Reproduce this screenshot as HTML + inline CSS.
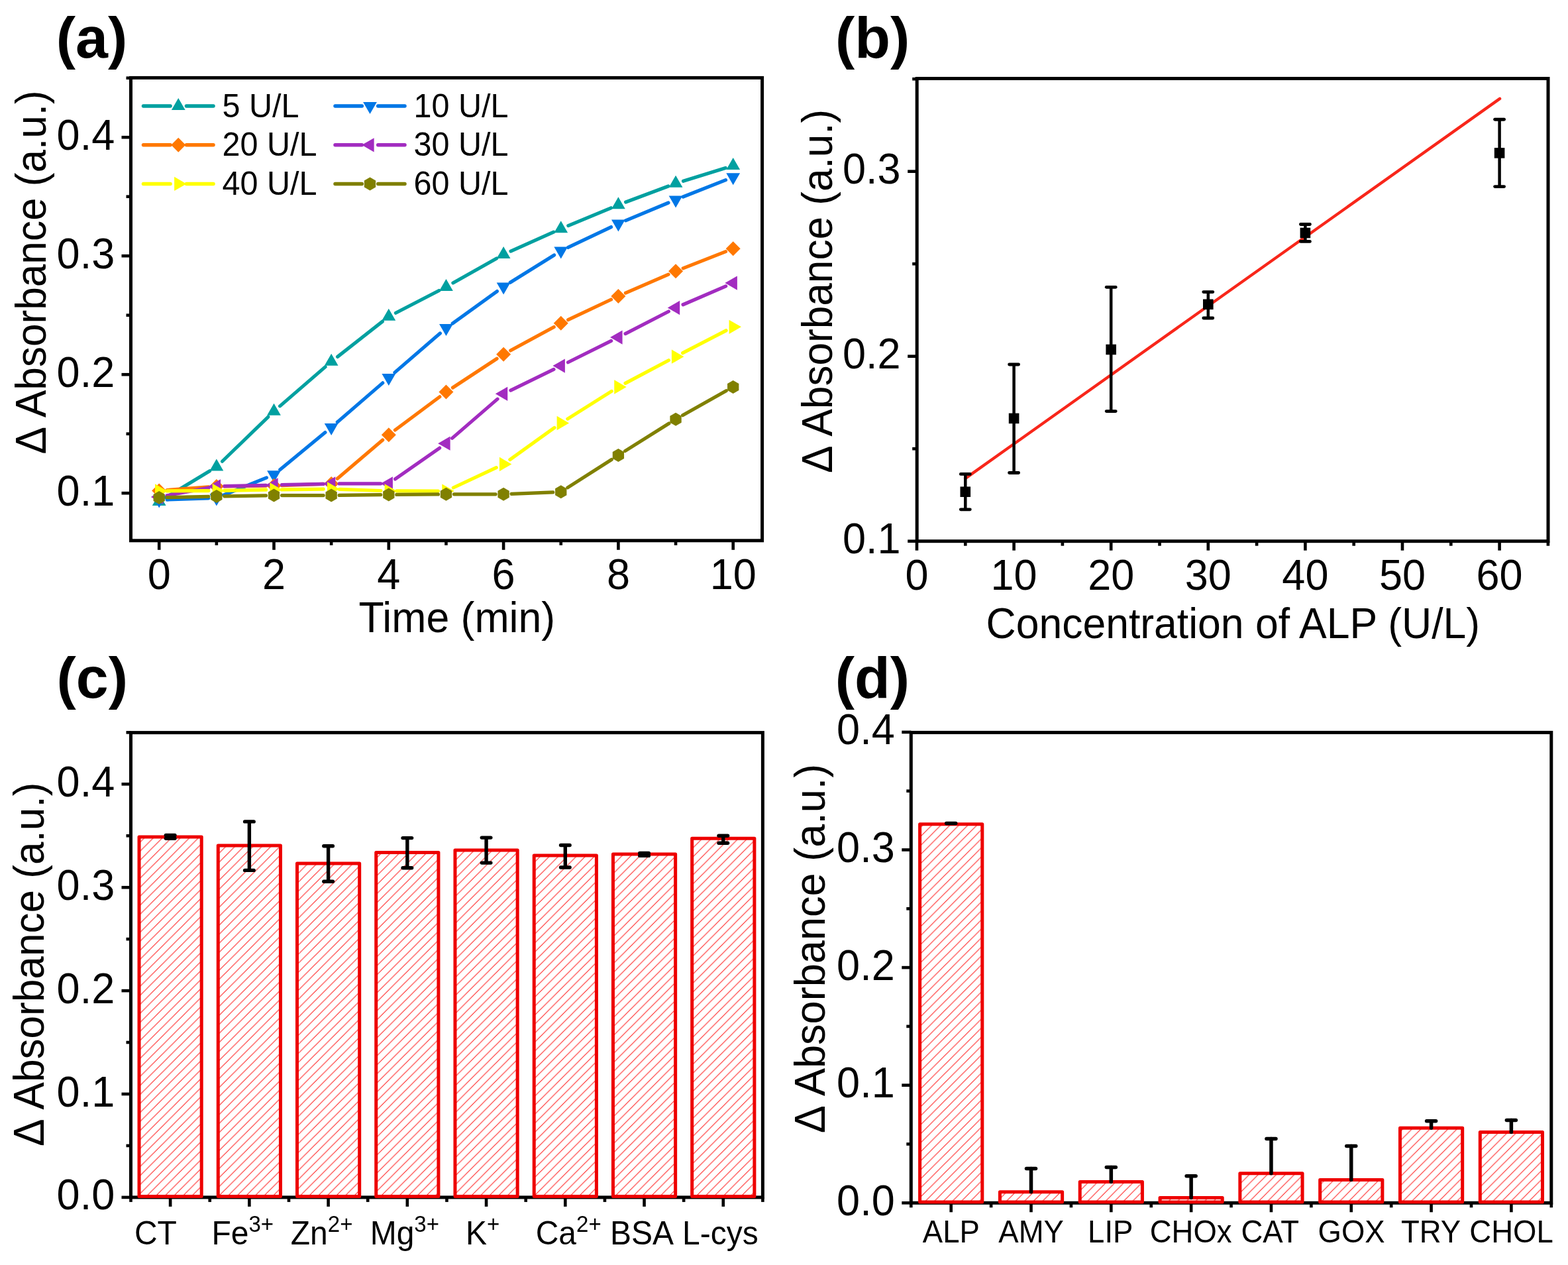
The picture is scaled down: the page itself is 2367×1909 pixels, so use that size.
<!DOCTYPE html>
<html><head><meta charset="utf-8"><title>Figure</title>
<style>html,body{margin:0;padding:0;background:#fff;} svg{display:block;} text{font-family:"Liberation Sans", Arial, sans-serif;fill:#000;}</style>
</head><body>
<svg xmlns="http://www.w3.org/2000/svg" width="2367" height="1909" viewBox="0 0 2367 1909">
<rect width="2367" height="1909" fill="#fff"/>
<defs><pattern id="hatch" patternUnits="userSpaceOnUse" width="13.6" height="13.6">
<path d="M-2,15.6 L15.6,-2 M-2,2 L2,-2 M11.6,15.6 L15.6,11.6" stroke="#FF2A2A" stroke-width="1.15" fill="none"/>
</pattern></defs>
<rect x="197.50" y="117.40" width="953.10" height="698.40" fill="none" stroke="#000" stroke-width="5.0" stroke-linejoin="miter"/>
<line x1="240.20" y1="815.80" x2="240.20" y2="829.80" stroke="#000" stroke-width="4.6" stroke-linecap="butt"/>
<line x1="413.50" y1="815.80" x2="413.50" y2="829.80" stroke="#000" stroke-width="4.6" stroke-linecap="butt"/>
<line x1="586.80" y1="815.80" x2="586.80" y2="829.80" stroke="#000" stroke-width="4.6" stroke-linecap="butt"/>
<line x1="760.10" y1="815.80" x2="760.10" y2="829.80" stroke="#000" stroke-width="4.6" stroke-linecap="butt"/>
<line x1="933.40" y1="815.80" x2="933.40" y2="829.80" stroke="#000" stroke-width="4.6" stroke-linecap="butt"/>
<line x1="1106.70" y1="815.80" x2="1106.70" y2="829.80" stroke="#000" stroke-width="4.6" stroke-linecap="butt"/>
<line x1="326.85" y1="815.80" x2="326.85" y2="822.80" stroke="#000" stroke-width="4.6" stroke-linecap="butt"/>
<line x1="500.15" y1="815.80" x2="500.15" y2="822.80" stroke="#000" stroke-width="4.6" stroke-linecap="butt"/>
<line x1="673.45" y1="815.80" x2="673.45" y2="822.80" stroke="#000" stroke-width="4.6" stroke-linecap="butt"/>
<line x1="846.75" y1="815.80" x2="846.75" y2="822.80" stroke="#000" stroke-width="4.6" stroke-linecap="butt"/>
<line x1="1020.05" y1="815.80" x2="1020.05" y2="822.80" stroke="#000" stroke-width="4.6" stroke-linecap="butt"/>
<line x1="197.50" y1="744.20" x2="183.50" y2="744.20" stroke="#000" stroke-width="4.6" stroke-linecap="butt"/>
<line x1="197.50" y1="565.20" x2="183.50" y2="565.20" stroke="#000" stroke-width="4.6" stroke-linecap="butt"/>
<line x1="197.50" y1="386.20" x2="183.50" y2="386.20" stroke="#000" stroke-width="4.6" stroke-linecap="butt"/>
<line x1="197.50" y1="207.20" x2="183.50" y2="207.20" stroke="#000" stroke-width="4.6" stroke-linecap="butt"/>
<line x1="197.50" y1="654.70" x2="190.50" y2="654.70" stroke="#000" stroke-width="4.6" stroke-linecap="butt"/>
<line x1="197.50" y1="475.70" x2="190.50" y2="475.70" stroke="#000" stroke-width="4.6" stroke-linecap="butt"/>
<line x1="197.50" y1="296.70" x2="190.50" y2="296.70" stroke="#000" stroke-width="4.6" stroke-linecap="butt"/>
<line x1="197.50" y1="117.70" x2="190.50" y2="117.70" stroke="#000" stroke-width="4.6" stroke-linecap="butt"/>
<text transform="translate(240.20 889.00) scale(1 1.04)" font-size="63" text-anchor="middle" font-weight="normal" >0</text>
<text transform="translate(413.50 889.00) scale(1 1.04)" font-size="63" text-anchor="middle" font-weight="normal" >2</text>
<text transform="translate(586.80 889.00) scale(1 1.04)" font-size="63" text-anchor="middle" font-weight="normal" >4</text>
<text transform="translate(760.10 889.00) scale(1 1.04)" font-size="63" text-anchor="middle" font-weight="normal" >6</text>
<text transform="translate(933.40 889.00) scale(1 1.04)" font-size="63" text-anchor="middle" font-weight="normal" >8</text>
<text transform="translate(1106.70 889.00) scale(1 1.04)" font-size="63" text-anchor="middle" font-weight="normal" >10</text>
<text transform="translate(173.20 762.70) scale(1 1.04)" font-size="63" text-anchor="end" font-weight="normal" >0.1</text>
<text transform="translate(173.20 583.70) scale(1 1.04)" font-size="63" text-anchor="end" font-weight="normal" >0.2</text>
<text transform="translate(173.20 404.70) scale(1 1.04)" font-size="63" text-anchor="end" font-weight="normal" >0.3</text>
<text transform="translate(173.20 225.70) scale(1 1.04)" font-size="63" text-anchor="end" font-weight="normal" >0.4</text>
<text transform="translate(689.80 954.40) scale(1 1.04)" font-size="62.6" text-anchor="middle" font-weight="normal" >Time (min)</text>
<text transform="translate(69.00 410.80) rotate(-90) scale(1 1.04)" font-size="62.15" text-anchor="middle">Δ Absorbance (a.u.)</text>
<line x1="250.47" y1="750.79" x2="316.58" y2="710.81" stroke="#00A0A0" stroke-width="5.2" stroke-linecap="round"/>
<line x1="335.47" y1="696.25" x2="404.88" y2="629.05" stroke="#00A0A0" stroke-width="5.2" stroke-linecap="round"/>
<line x1="422.58" y1="612.85" x2="491.07" y2="553.65" stroke="#00A0A0" stroke-width="5.2" stroke-linecap="round"/>
<line x1="509.58" y1="538.38" x2="577.37" y2="485.12" stroke="#00A0A0" stroke-width="5.2" stroke-linecap="round"/>
<line x1="597.46" y1="472.20" x2="662.79" y2="438.50" stroke="#00A0A0" stroke-width="5.2" stroke-linecap="round"/>
<line x1="683.90" y1="427.09" x2="749.65" y2="389.91" stroke="#00A0A0" stroke-width="5.2" stroke-linecap="round"/>
<line x1="771.05" y1="379.10" x2="835.80" y2="350.10" stroke="#00A0A0" stroke-width="5.2" stroke-linecap="round"/>
<line x1="857.83" y1="340.60" x2="922.32" y2="313.80" stroke="#00A0A0" stroke-width="5.2" stroke-linecap="round"/>
<line x1="944.64" y1="305.00" x2="1008.81" y2="281.00" stroke="#00A0A0" stroke-width="5.2" stroke-linecap="round"/>
<line x1="1031.51" y1="273.24" x2="1095.24" y2="253.46" stroke="#00A0A0" stroke-width="5.2" stroke-linecap="round"/>
<polygon points="240.20,745.00 250.59,763.00 229.81,763.00" fill="#00A0A0"/>
<polygon points="326.85,692.60 337.24,710.60 316.46,710.60" fill="#00A0A0"/>
<polygon points="413.50,608.70 423.89,626.70 403.11,626.70" fill="#00A0A0"/>
<polygon points="500.15,533.80 510.54,551.80 489.76,551.80" fill="#00A0A0"/>
<polygon points="586.80,465.70 597.19,483.70 576.41,483.70" fill="#00A0A0"/>
<polygon points="673.45,421.00 683.84,439.00 663.06,439.00" fill="#00A0A0"/>
<polygon points="760.10,372.00 770.49,390.00 749.71,390.00" fill="#00A0A0"/>
<polygon points="846.75,333.20 857.14,351.20 836.36,351.20" fill="#00A0A0"/>
<polygon points="933.40,297.20 943.79,315.20 923.01,315.20" fill="#00A0A0"/>
<polygon points="1020.05,264.80 1030.44,282.80 1009.66,282.80" fill="#00A0A0"/>
<polygon points="1106.70,237.90 1117.09,255.90 1096.31,255.90" fill="#00A0A0"/>
<line x1="252.19" y1="754.08" x2="314.86" y2="751.92" stroke="#0077E6" stroke-width="5.2" stroke-linecap="round"/>
<line x1="337.97" y1="746.98" x2="402.38" y2="720.82" stroke="#0077E6" stroke-width="5.2" stroke-linecap="round"/>
<line x1="422.76" y1="708.67" x2="490.89" y2="652.53" stroke="#0077E6" stroke-width="5.2" stroke-linecap="round"/>
<line x1="509.23" y1="637.05" x2="577.72" y2="577.85" stroke="#0077E6" stroke-width="5.2" stroke-linecap="round"/>
<line x1="595.88" y1="562.15" x2="664.37" y2="502.95" stroke="#0077E6" stroke-width="5.2" stroke-linecap="round"/>
<line x1="683.18" y1="488.08" x2="750.37" y2="439.62" stroke="#0077E6" stroke-width="5.2" stroke-linecap="round"/>
<line x1="770.28" y1="426.25" x2="836.57" y2="384.95" stroke="#0077E6" stroke-width="5.2" stroke-linecap="round"/>
<line x1="857.59" y1="373.45" x2="922.56" y2="342.55" stroke="#0077E6" stroke-width="5.2" stroke-linecap="round"/>
<line x1="944.48" y1="332.80" x2="1008.97" y2="306.00" stroke="#0077E6" stroke-width="5.2" stroke-linecap="round"/>
<line x1="1031.22" y1="297.01" x2="1095.53" y2="271.69" stroke="#0077E6" stroke-width="5.2" stroke-linecap="round"/>
<polygon points="240.20,766.50 250.59,748.50 229.81,748.50" fill="#0077E6"/>
<polygon points="326.85,763.50 337.24,745.50 316.46,745.50" fill="#0077E6"/>
<polygon points="413.50,728.30 423.89,710.30 403.11,710.30" fill="#0077E6"/>
<polygon points="500.15,656.90 510.54,638.90 489.76,638.90" fill="#0077E6"/>
<polygon points="586.80,582.00 597.19,564.00 576.41,564.00" fill="#0077E6"/>
<polygon points="673.45,507.10 683.84,489.10 663.06,489.10" fill="#0077E6"/>
<polygon points="760.10,444.60 770.49,426.60 749.71,426.60" fill="#0077E6"/>
<polygon points="846.75,390.60 857.14,372.60 836.36,372.60" fill="#0077E6"/>
<polygon points="933.40,349.40 943.79,331.40 923.01,331.40" fill="#0077E6"/>
<polygon points="1020.05,313.40 1030.44,295.40 1009.66,295.40" fill="#0077E6"/>
<polygon points="1106.70,279.30 1117.09,261.30 1096.31,261.30" fill="#0077E6"/>
<line x1="252.17" y1="739.52" x2="314.88" y2="734.88" stroke="#FF7800" stroke-width="5.2" stroke-linecap="round"/>
<line x1="338.85" y1="733.86" x2="401.50" y2="733.14" stroke="#FF7800" stroke-width="5.2" stroke-linecap="round"/>
<line x1="425.49" y1="732.58" x2="488.16" y2="730.42" stroke="#FF7800" stroke-width="5.2" stroke-linecap="round"/>
<line x1="509.29" y1="722.22" x2="577.66" y2="663.98" stroke="#FF7800" stroke-width="5.2" stroke-linecap="round"/>
<line x1="596.42" y1="649.03" x2="663.83" y2="598.77" stroke="#FF7800" stroke-width="5.2" stroke-linecap="round"/>
<line x1="683.48" y1="585.01" x2="750.07" y2="541.29" stroke="#FF7800" stroke-width="5.2" stroke-linecap="round"/>
<line x1="770.65" y1="528.99" x2="836.20" y2="493.51" stroke="#FF7800" stroke-width="5.2" stroke-linecap="round"/>
<line x1="857.60" y1="482.68" x2="922.55" y2="452.02" stroke="#FF7800" stroke-width="5.2" stroke-linecap="round"/>
<line x1="944.41" y1="442.12" x2="1009.04" y2="414.08" stroke="#FF7800" stroke-width="5.2" stroke-linecap="round"/>
<line x1="1031.22" y1="404.91" x2="1095.53" y2="379.59" stroke="#FF7800" stroke-width="5.2" stroke-linecap="round"/>
<polygon points="240.20,729.40 251.20,740.40 240.20,751.40 229.20,740.40" fill="#FF7800"/>
<polygon points="326.85,723.00 337.85,734.00 326.85,745.00 315.85,734.00" fill="#FF7800"/>
<polygon points="413.50,722.00 424.50,733.00 413.50,744.00 402.50,733.00" fill="#FF7800"/>
<polygon points="500.15,719.00 511.15,730.00 500.15,741.00 489.15,730.00" fill="#FF7800"/>
<polygon points="586.80,645.20 597.80,656.20 586.80,667.20 575.80,656.20" fill="#FF7800"/>
<polygon points="673.45,580.60 684.45,591.60 673.45,602.60 662.45,591.60" fill="#FF7800"/>
<polygon points="760.10,523.70 771.10,534.70 760.10,545.70 749.10,534.70" fill="#FF7800"/>
<polygon points="846.75,476.80 857.75,487.80 846.75,498.80 835.75,487.80" fill="#FF7800"/>
<polygon points="933.40,435.90 944.40,446.90 933.40,457.90 922.40,446.90" fill="#FF7800"/>
<polygon points="1020.05,398.30 1031.05,409.30 1020.05,420.30 1009.05,409.30" fill="#FF7800"/>
<polygon points="1106.70,364.20 1117.70,375.20 1106.70,386.20 1095.70,375.20" fill="#FF7800"/>
<line x1="252.00" y1="747.82" x2="315.05" y2="736.18" stroke="#A22CC0" stroke-width="5.2" stroke-linecap="round"/>
<line x1="338.85" y1="733.72" x2="401.50" y2="732.28" stroke="#A22CC0" stroke-width="5.2" stroke-linecap="round"/>
<line x1="425.50" y1="731.72" x2="488.15" y2="730.28" stroke="#A22CC0" stroke-width="5.2" stroke-linecap="round"/>
<line x1="512.15" y1="729.97" x2="574.80" y2="729.83" stroke="#A22CC0" stroke-width="5.2" stroke-linecap="round"/>
<line x1="596.63" y1="722.92" x2="663.62" y2="676.08" stroke="#A22CC0" stroke-width="5.2" stroke-linecap="round"/>
<line x1="682.53" y1="661.35" x2="751.02" y2="602.15" stroke="#A22CC0" stroke-width="5.2" stroke-linecap="round"/>
<line x1="770.89" y1="589.05" x2="835.96" y2="557.35" stroke="#A22CC0" stroke-width="5.2" stroke-linecap="round"/>
<line x1="857.50" y1="546.77" x2="922.65" y2="514.43" stroke="#A22CC0" stroke-width="5.2" stroke-linecap="round"/>
<line x1="944.07" y1="503.61" x2="1009.38" y2="469.99" stroke="#A22CC0" stroke-width="5.2" stroke-linecap="round"/>
<line x1="1031.07" y1="459.74" x2="1095.68" y2="431.86" stroke="#A22CC0" stroke-width="5.2" stroke-linecap="round"/>
<polygon points="227.90,750.00 246.35,760.65 246.35,739.35" fill="#A22CC0"/>
<polygon points="314.55,734.00 333.00,744.65 333.00,723.35" fill="#A22CC0"/>
<polygon points="401.20,732.00 419.65,742.65 419.65,721.35" fill="#A22CC0"/>
<polygon points="487.85,730.00 506.30,740.65 506.30,719.35" fill="#A22CC0"/>
<polygon points="574.50,729.80 592.95,740.45 592.95,719.15" fill="#A22CC0"/>
<polygon points="661.15,669.20 679.60,679.85 679.60,658.55" fill="#A22CC0"/>
<polygon points="747.80,594.30 766.25,604.95 766.25,583.65" fill="#A22CC0"/>
<polygon points="834.45,552.10 852.90,562.75 852.90,541.45" fill="#A22CC0"/>
<polygon points="921.10,509.10 939.55,519.75 939.55,498.45" fill="#A22CC0"/>
<polygon points="1007.75,464.50 1026.20,475.15 1026.20,453.85" fill="#A22CC0"/>
<polygon points="1094.40,427.10 1112.85,437.75 1112.85,416.45" fill="#A22CC0"/>
<line x1="252.20" y1="740.93" x2="314.85" y2="740.57" stroke="#FFFF00" stroke-width="5.2" stroke-linecap="round"/>
<line x1="338.85" y1="740.29" x2="401.50" y2="739.21" stroke="#FFFF00" stroke-width="5.2" stroke-linecap="round"/>
<line x1="425.50" y1="738.86" x2="488.15" y2="738.14" stroke="#FFFF00" stroke-width="5.2" stroke-linecap="round"/>
<line x1="512.14" y1="738.40" x2="574.81" y2="740.50" stroke="#FFFF00" stroke-width="5.2" stroke-linecap="round"/>
<line x1="598.80" y1="740.93" x2="661.45" y2="741.07" stroke="#FFFF00" stroke-width="5.2" stroke-linecap="round"/>
<line x1="684.32" y1="736.01" x2="749.23" y2="705.59" stroke="#FFFF00" stroke-width="5.2" stroke-linecap="round"/>
<line x1="769.86" y1="693.52" x2="836.99" y2="645.48" stroke="#FFFF00" stroke-width="5.2" stroke-linecap="round"/>
<line x1="856.91" y1="632.11" x2="923.24" y2="590.39" stroke="#FFFF00" stroke-width="5.2" stroke-linecap="round"/>
<line x1="944.01" y1="578.39" x2="1009.44" y2="543.81" stroke="#FFFF00" stroke-width="5.2" stroke-linecap="round"/>
<line x1="1030.70" y1="532.68" x2="1096.05" y2="498.82" stroke="#FFFF00" stroke-width="5.2" stroke-linecap="round"/>
<polygon points="252.50,741.00 234.05,751.65 234.05,730.35" fill="#FFFF00"/>
<polygon points="339.15,740.50 320.70,751.15 320.70,729.85" fill="#FFFF00"/>
<polygon points="425.80,739.00 407.35,749.65 407.35,728.35" fill="#FFFF00"/>
<polygon points="512.45,738.00 494.00,748.65 494.00,727.35" fill="#FFFF00"/>
<polygon points="599.10,740.90 580.65,751.55 580.65,730.25" fill="#FFFF00"/>
<polygon points="685.75,741.10 667.30,751.75 667.30,730.45" fill="#FFFF00"/>
<polygon points="772.40,700.50 753.95,711.15 753.95,689.85" fill="#FFFF00"/>
<polygon points="859.05,638.50 840.60,649.15 840.60,627.85" fill="#FFFF00"/>
<polygon points="945.70,584.00 927.25,594.65 927.25,573.35" fill="#FFFF00"/>
<polygon points="1032.35,538.20 1013.90,548.85 1013.90,527.55" fill="#FFFF00"/>
<polygon points="1119.00,493.30 1100.55,503.95 1100.55,482.65" fill="#FFFF00"/>
<line x1="252.20" y1="750.72" x2="314.85" y2="749.28" stroke="#808000" stroke-width="5.2" stroke-linecap="round"/>
<line x1="338.85" y1="748.81" x2="401.50" y2="747.79" stroke="#808000" stroke-width="5.2" stroke-linecap="round"/>
<line x1="425.50" y1="747.60" x2="488.15" y2="747.60" stroke="#808000" stroke-width="5.2" stroke-linecap="round"/>
<line x1="512.15" y1="747.45" x2="574.80" y2="746.65" stroke="#808000" stroke-width="5.2" stroke-linecap="round"/>
<line x1="598.80" y1="746.40" x2="661.45" y2="745.90" stroke="#808000" stroke-width="5.2" stroke-linecap="round"/>
<line x1="685.45" y1="745.80" x2="748.10" y2="745.80" stroke="#808000" stroke-width="5.2" stroke-linecap="round"/>
<line x1="772.09" y1="745.32" x2="834.76" y2="742.78" stroke="#808000" stroke-width="5.2" stroke-linecap="round"/>
<line x1="856.87" y1="735.84" x2="923.28" y2="693.46" stroke="#808000" stroke-width="5.2" stroke-linecap="round"/>
<line x1="943.57" y1="680.63" x2="1009.88" y2="639.07" stroke="#808000" stroke-width="5.2" stroke-linecap="round"/>
<line x1="1030.51" y1="626.81" x2="1096.24" y2="589.79" stroke="#808000" stroke-width="5.2" stroke-linecap="round"/>
<polygon points="240.20,741.00 248.86,746.00 248.86,756.00 240.20,761.00 231.54,756.00 231.54,746.00" fill="#808000"/>
<polygon points="326.85,739.00 335.51,744.00 335.51,754.00 326.85,759.00 318.19,754.00 318.19,744.00" fill="#808000"/>
<polygon points="413.50,737.60 422.16,742.60 422.16,752.60 413.50,757.60 404.84,752.60 404.84,742.60" fill="#808000"/>
<polygon points="500.15,737.60 508.81,742.60 508.81,752.60 500.15,757.60 491.49,752.60 491.49,742.60" fill="#808000"/>
<polygon points="586.80,736.50 595.46,741.50 595.46,751.50 586.80,756.50 578.14,751.50 578.14,741.50" fill="#808000"/>
<polygon points="673.45,735.80 682.11,740.80 682.11,750.80 673.45,755.80 664.79,750.80 664.79,740.80" fill="#808000"/>
<polygon points="760.10,735.80 768.76,740.80 768.76,750.80 760.10,755.80 751.44,750.80 751.44,740.80" fill="#808000"/>
<polygon points="846.75,732.30 855.41,737.30 855.41,747.30 846.75,752.30 838.09,747.30 838.09,737.30" fill="#808000"/>
<polygon points="933.40,677.00 942.06,682.00 942.06,692.00 933.40,697.00 924.74,692.00 924.74,682.00" fill="#808000"/>
<polygon points="1020.05,622.70 1028.71,627.70 1028.71,637.70 1020.05,642.70 1011.39,637.70 1011.39,627.70" fill="#808000"/>
<polygon points="1106.70,573.90 1115.36,578.90 1115.36,588.90 1106.70,593.90 1098.04,588.90 1098.04,578.90" fill="#808000"/>
<line x1="216.50" y1="160.00" x2="257.05" y2="160.00" stroke="#00A0A0" stroke-width="5.5" stroke-linecap="round"/>
<line x1="281.45" y1="160.00" x2="322.00" y2="160.00" stroke="#00A0A0" stroke-width="5.5" stroke-linecap="round"/>
<polygon points="269.25,148.00 279.64,166.00 258.86,166.00" fill="#00A0A0"/>
<text transform="translate(335.50 176.50) scale(1 1.04)" font-size="48.5" text-anchor="start" font-weight="normal" >5 U/L</text>
<line x1="506.00" y1="160.00" x2="546.30" y2="160.00" stroke="#0077E6" stroke-width="5.5" stroke-linecap="round"/>
<line x1="570.70" y1="160.00" x2="611.00" y2="160.00" stroke="#0077E6" stroke-width="5.5" stroke-linecap="round"/>
<polygon points="558.50,172.00 568.89,154.00 548.11,154.00" fill="#0077E6"/>
<text transform="translate(624.50 176.50) scale(1 1.04)" font-size="48.5" text-anchor="start" font-weight="normal" >10 U/L</text>
<line x1="216.50" y1="218.80" x2="257.05" y2="218.80" stroke="#FF7800" stroke-width="5.5" stroke-linecap="round"/>
<line x1="281.45" y1="218.80" x2="322.00" y2="218.80" stroke="#FF7800" stroke-width="5.5" stroke-linecap="round"/>
<polygon points="269.25,207.80 280.25,218.80 269.25,229.80 258.25,218.80" fill="#FF7800"/>
<text transform="translate(335.50 235.30) scale(1 1.04)" font-size="48.5" text-anchor="start" font-weight="normal" >20 U/L</text>
<line x1="506.00" y1="218.80" x2="546.30" y2="218.80" stroke="#A22CC0" stroke-width="5.5" stroke-linecap="round"/>
<line x1="570.70" y1="218.80" x2="611.00" y2="218.80" stroke="#A22CC0" stroke-width="5.5" stroke-linecap="round"/>
<polygon points="546.20,218.80 564.65,229.45 564.65,208.15" fill="#A22CC0"/>
<text transform="translate(624.50 235.30) scale(1 1.04)" font-size="48.5" text-anchor="start" font-weight="normal" >30 U/L</text>
<line x1="216.50" y1="277.40" x2="257.05" y2="277.40" stroke="#FFFF00" stroke-width="5.5" stroke-linecap="round"/>
<line x1="281.45" y1="277.40" x2="322.00" y2="277.40" stroke="#FFFF00" stroke-width="5.5" stroke-linecap="round"/>
<polygon points="281.55,277.40 263.10,288.05 263.10,266.75" fill="#FFFF00"/>
<text transform="translate(335.50 293.90) scale(1 1.04)" font-size="48.5" text-anchor="start" font-weight="normal" >40 U/L</text>
<line x1="506.00" y1="277.40" x2="546.30" y2="277.40" stroke="#808000" stroke-width="5.5" stroke-linecap="round"/>
<line x1="570.70" y1="277.40" x2="611.00" y2="277.40" stroke="#808000" stroke-width="5.5" stroke-linecap="round"/>
<polygon points="558.50,267.40 567.16,272.40 567.16,282.40 558.50,287.40 549.84,282.40 549.84,272.40" fill="#808000"/>
<text transform="translate(624.50 293.90) scale(1 1.04)" font-size="48.5" text-anchor="start" font-weight="normal" >60 U/L</text>
<rect x="1384.20" y="118.50" width="952.80" height="698.20" fill="none" stroke="#000" stroke-width="5.0" stroke-linejoin="miter"/>
<line x1="1384.00" y1="816.70" x2="1384.00" y2="830.70" stroke="#000" stroke-width="4.6" stroke-linecap="butt"/>
<line x1="1530.60" y1="816.70" x2="1530.60" y2="830.70" stroke="#000" stroke-width="4.6" stroke-linecap="butt"/>
<line x1="1677.20" y1="816.70" x2="1677.20" y2="830.70" stroke="#000" stroke-width="4.6" stroke-linecap="butt"/>
<line x1="1823.80" y1="816.70" x2="1823.80" y2="830.70" stroke="#000" stroke-width="4.6" stroke-linecap="butt"/>
<line x1="1970.40" y1="816.70" x2="1970.40" y2="830.70" stroke="#000" stroke-width="4.6" stroke-linecap="butt"/>
<line x1="2117.00" y1="816.70" x2="2117.00" y2="830.70" stroke="#000" stroke-width="4.6" stroke-linecap="butt"/>
<line x1="2263.60" y1="816.70" x2="2263.60" y2="830.70" stroke="#000" stroke-width="4.6" stroke-linecap="butt"/>
<line x1="1457.30" y1="816.70" x2="1457.30" y2="823.70" stroke="#000" stroke-width="4.6" stroke-linecap="butt"/>
<line x1="1603.90" y1="816.70" x2="1603.90" y2="823.70" stroke="#000" stroke-width="4.6" stroke-linecap="butt"/>
<line x1="1750.50" y1="816.70" x2="1750.50" y2="823.70" stroke="#000" stroke-width="4.6" stroke-linecap="butt"/>
<line x1="1897.10" y1="816.70" x2="1897.10" y2="823.70" stroke="#000" stroke-width="4.6" stroke-linecap="butt"/>
<line x1="2043.70" y1="816.70" x2="2043.70" y2="823.70" stroke="#000" stroke-width="4.6" stroke-linecap="butt"/>
<line x1="2190.30" y1="816.70" x2="2190.30" y2="823.70" stroke="#000" stroke-width="4.6" stroke-linecap="butt"/>
<line x1="2336.90" y1="816.70" x2="2336.90" y2="823.70" stroke="#000" stroke-width="4.6" stroke-linecap="butt"/>
<line x1="1384.20" y1="816.70" x2="1370.20" y2="816.70" stroke="#000" stroke-width="4.6" stroke-linecap="butt"/>
<line x1="1384.20" y1="537.70" x2="1370.20" y2="537.70" stroke="#000" stroke-width="4.6" stroke-linecap="butt"/>
<line x1="1384.20" y1="258.70" x2="1370.20" y2="258.70" stroke="#000" stroke-width="4.6" stroke-linecap="butt"/>
<line x1="1384.20" y1="677.20" x2="1377.20" y2="677.20" stroke="#000" stroke-width="4.6" stroke-linecap="butt"/>
<line x1="1384.20" y1="398.20" x2="1377.20" y2="398.20" stroke="#000" stroke-width="4.6" stroke-linecap="butt"/>
<line x1="1384.20" y1="119.20" x2="1377.20" y2="119.20" stroke="#000" stroke-width="4.6" stroke-linecap="butt"/>
<text transform="translate(1384.00 889.50) scale(1 1.04)" font-size="63" text-anchor="middle" font-weight="normal" >0</text>
<text transform="translate(1530.60 889.50) scale(1 1.04)" font-size="63" text-anchor="middle" font-weight="normal" >10</text>
<text transform="translate(1677.20 889.50) scale(1 1.04)" font-size="63" text-anchor="middle" font-weight="normal" >20</text>
<text transform="translate(1823.80 889.50) scale(1 1.04)" font-size="63" text-anchor="middle" font-weight="normal" >30</text>
<text transform="translate(1970.40 889.50) scale(1 1.04)" font-size="63" text-anchor="middle" font-weight="normal" >40</text>
<text transform="translate(2117.00 889.50) scale(1 1.04)" font-size="63" text-anchor="middle" font-weight="normal" >50</text>
<text transform="translate(2263.60 889.50) scale(1 1.04)" font-size="63" text-anchor="middle" font-weight="normal" >60</text>
<text transform="translate(1359.60 835.20) scale(1 1.04)" font-size="63" text-anchor="end" font-weight="normal" >0.1</text>
<text transform="translate(1359.60 556.20) scale(1 1.04)" font-size="63" text-anchor="end" font-weight="normal" >0.2</text>
<text transform="translate(1359.60 277.20) scale(1 1.04)" font-size="63" text-anchor="end" font-weight="normal" >0.3</text>
<text transform="translate(1861.35 962.60) scale(1 1.04)" font-size="62.5" text-anchor="middle" font-weight="normal" >Concentration of ALP (U/L)</text>
<text transform="translate(1255.90 439.30) rotate(-90) scale(1 1.04)" font-size="62.15" text-anchor="middle">Δ Absorbance (a.u.)</text>
<line x1="1457.10" y1="722.10" x2="2264.10" y2="148.90" stroke="#F8261A" stroke-width="4.4" stroke-linecap="round"/>
<line x1="1457.30" y1="715.40" x2="1457.30" y2="768.80" stroke="#000" stroke-width="4.5" stroke-linecap="butt"/>
<line x1="1450.30" y1="715.40" x2="1464.30" y2="715.40" stroke="#000" stroke-width="4.8" stroke-linecap="round"/>
<line x1="1450.30" y1="768.80" x2="1464.30" y2="768.80" stroke="#000" stroke-width="4.8" stroke-linecap="round"/>
<polygon points="1449.50,734.40 1465.10,734.40 1465.10,750.00 1449.50,750.00" fill="#000"/>
<line x1="1530.60" y1="550.00" x2="1530.60" y2="713.50" stroke="#000" stroke-width="4.5" stroke-linecap="butt"/>
<line x1="1523.60" y1="550.00" x2="1537.60" y2="550.00" stroke="#000" stroke-width="4.8" stroke-linecap="round"/>
<line x1="1523.60" y1="713.50" x2="1537.60" y2="713.50" stroke="#000" stroke-width="4.8" stroke-linecap="round"/>
<polygon points="1522.80,623.60 1538.40,623.60 1538.40,639.20 1522.80,639.20" fill="#000"/>
<line x1="1677.20" y1="433.30" x2="1677.20" y2="620.60" stroke="#000" stroke-width="4.5" stroke-linecap="butt"/>
<line x1="1670.20" y1="433.30" x2="1684.20" y2="433.30" stroke="#000" stroke-width="4.8" stroke-linecap="round"/>
<line x1="1670.20" y1="620.60" x2="1684.20" y2="620.60" stroke="#000" stroke-width="4.8" stroke-linecap="round"/>
<polygon points="1669.40,519.70 1685.00,519.70 1685.00,535.30 1669.40,535.30" fill="#000"/>
<line x1="1823.80" y1="440.60" x2="1823.80" y2="480.00" stroke="#000" stroke-width="4.5" stroke-linecap="butt"/>
<line x1="1816.80" y1="440.60" x2="1830.80" y2="440.60" stroke="#000" stroke-width="4.8" stroke-linecap="round"/>
<line x1="1816.80" y1="480.00" x2="1830.80" y2="480.00" stroke="#000" stroke-width="4.8" stroke-linecap="round"/>
<polygon points="1816.00,451.50 1831.60,451.50 1831.60,467.10 1816.00,467.10" fill="#000"/>
<line x1="1970.40" y1="338.50" x2="1970.40" y2="364.40" stroke="#000" stroke-width="4.5" stroke-linecap="butt"/>
<line x1="1963.40" y1="338.50" x2="1977.40" y2="338.50" stroke="#000" stroke-width="4.8" stroke-linecap="round"/>
<line x1="1963.40" y1="364.40" x2="1977.40" y2="364.40" stroke="#000" stroke-width="4.8" stroke-linecap="round"/>
<polygon points="1962.60,343.70 1978.20,343.70 1978.20,359.30 1962.60,359.30" fill="#000"/>
<line x1="2263.60" y1="180.25" x2="2263.60" y2="281.60" stroke="#000" stroke-width="4.5" stroke-linecap="butt"/>
<line x1="2256.60" y1="180.25" x2="2270.60" y2="180.25" stroke="#000" stroke-width="4.8" stroke-linecap="round"/>
<line x1="2256.60" y1="281.60" x2="2270.60" y2="281.60" stroke="#000" stroke-width="4.8" stroke-linecap="round"/>
<polygon points="2255.80,223.10 2271.40,223.10 2271.40,238.70 2255.80,238.70" fill="#000"/>
<rect x="197.50" y="1105.60" width="953.90" height="701.30" fill="none" stroke="#000" stroke-width="5.0" stroke-linejoin="miter"/>
<line x1="257.12" y1="1806.90" x2="257.12" y2="1820.90" stroke="#000" stroke-width="4.6" stroke-linecap="butt"/>
<line x1="376.36" y1="1806.90" x2="376.36" y2="1820.90" stroke="#000" stroke-width="4.6" stroke-linecap="butt"/>
<line x1="495.59" y1="1806.90" x2="495.59" y2="1820.90" stroke="#000" stroke-width="4.6" stroke-linecap="butt"/>
<line x1="614.83" y1="1806.90" x2="614.83" y2="1820.90" stroke="#000" stroke-width="4.6" stroke-linecap="butt"/>
<line x1="734.07" y1="1806.90" x2="734.07" y2="1820.90" stroke="#000" stroke-width="4.6" stroke-linecap="butt"/>
<line x1="853.31" y1="1806.90" x2="853.31" y2="1820.90" stroke="#000" stroke-width="4.6" stroke-linecap="butt"/>
<line x1="972.54" y1="1806.90" x2="972.54" y2="1820.90" stroke="#000" stroke-width="4.6" stroke-linecap="butt"/>
<line x1="1091.78" y1="1806.90" x2="1091.78" y2="1820.90" stroke="#000" stroke-width="4.6" stroke-linecap="butt"/>
<line x1="197.50" y1="1806.90" x2="197.50" y2="1813.90" stroke="#000" stroke-width="4.6" stroke-linecap="butt"/>
<line x1="316.74" y1="1806.90" x2="316.74" y2="1813.90" stroke="#000" stroke-width="4.6" stroke-linecap="butt"/>
<line x1="435.98" y1="1806.90" x2="435.98" y2="1813.90" stroke="#000" stroke-width="4.6" stroke-linecap="butt"/>
<line x1="555.21" y1="1806.90" x2="555.21" y2="1813.90" stroke="#000" stroke-width="4.6" stroke-linecap="butt"/>
<line x1="674.45" y1="1806.90" x2="674.45" y2="1813.90" stroke="#000" stroke-width="4.6" stroke-linecap="butt"/>
<line x1="793.69" y1="1806.90" x2="793.69" y2="1813.90" stroke="#000" stroke-width="4.6" stroke-linecap="butt"/>
<line x1="912.93" y1="1806.90" x2="912.93" y2="1813.90" stroke="#000" stroke-width="4.6" stroke-linecap="butt"/>
<line x1="1032.16" y1="1806.90" x2="1032.16" y2="1813.90" stroke="#000" stroke-width="4.6" stroke-linecap="butt"/>
<line x1="1151.40" y1="1806.90" x2="1151.40" y2="1813.90" stroke="#000" stroke-width="4.6" stroke-linecap="butt"/>
<line x1="197.50" y1="1806.90" x2="183.50" y2="1806.90" stroke="#000" stroke-width="4.6" stroke-linecap="butt"/>
<line x1="197.50" y1="1651.00" x2="183.50" y2="1651.00" stroke="#000" stroke-width="4.6" stroke-linecap="butt"/>
<line x1="197.50" y1="1495.10" x2="183.50" y2="1495.10" stroke="#000" stroke-width="4.6" stroke-linecap="butt"/>
<line x1="197.50" y1="1339.20" x2="183.50" y2="1339.20" stroke="#000" stroke-width="4.6" stroke-linecap="butt"/>
<line x1="197.50" y1="1183.30" x2="183.50" y2="1183.30" stroke="#000" stroke-width="4.6" stroke-linecap="butt"/>
<line x1="197.50" y1="1728.95" x2="190.50" y2="1728.95" stroke="#000" stroke-width="4.6" stroke-linecap="butt"/>
<line x1="197.50" y1="1573.05" x2="190.50" y2="1573.05" stroke="#000" stroke-width="4.6" stroke-linecap="butt"/>
<line x1="197.50" y1="1417.15" x2="190.50" y2="1417.15" stroke="#000" stroke-width="4.6" stroke-linecap="butt"/>
<line x1="197.50" y1="1261.25" x2="190.50" y2="1261.25" stroke="#000" stroke-width="4.6" stroke-linecap="butt"/>
<line x1="197.50" y1="1105.35" x2="190.50" y2="1105.35" stroke="#000" stroke-width="4.6" stroke-linecap="butt"/>
<text transform="translate(173.20 1825.40) scale(1 1.04)" font-size="63" text-anchor="end" font-weight="normal" >0.0</text>
<text transform="translate(173.20 1669.50) scale(1 1.04)" font-size="63" text-anchor="end" font-weight="normal" >0.1</text>
<text transform="translate(173.20 1513.60) scale(1 1.04)" font-size="63" text-anchor="end" font-weight="normal" >0.2</text>
<text transform="translate(173.20 1357.70) scale(1 1.04)" font-size="63" text-anchor="end" font-weight="normal" >0.3</text>
<text transform="translate(173.20 1201.80) scale(1 1.04)" font-size="63" text-anchor="end" font-weight="normal" >0.4</text>
<text transform="translate(65.80 1455.25) rotate(-90) scale(1 1.04)" font-size="62.15" text-anchor="middle">Δ Absorbance (a.u.)</text>
<rect x="210.02" y="1263.00" width="94.20" height="542.60" fill="url(#hatch)" stroke="#EE0000" stroke-width="5" stroke-linejoin="round"/>
<rect x="329.26" y="1275.90" width="94.20" height="529.70" fill="url(#hatch)" stroke="#EE0000" stroke-width="5" stroke-linejoin="round"/>
<rect x="448.49" y="1302.90" width="94.20" height="502.70" fill="url(#hatch)" stroke="#EE0000" stroke-width="5" stroke-linejoin="round"/>
<rect x="567.73" y="1286.60" width="94.20" height="519.00" fill="url(#hatch)" stroke="#EE0000" stroke-width="5" stroke-linejoin="round"/>
<rect x="686.97" y="1282.90" width="94.20" height="522.70" fill="url(#hatch)" stroke="#EE0000" stroke-width="5" stroke-linejoin="round"/>
<rect x="806.21" y="1291.10" width="94.20" height="514.50" fill="url(#hatch)" stroke="#EE0000" stroke-width="5" stroke-linejoin="round"/>
<rect x="925.44" y="1289.00" width="94.20" height="516.60" fill="url(#hatch)" stroke="#EE0000" stroke-width="5" stroke-linejoin="round"/>
<rect x="1044.68" y="1265.30" width="94.20" height="540.30" fill="url(#hatch)" stroke="#EE0000" stroke-width="5" stroke-linejoin="round"/>
<line x1="257.12" y1="1260.40" x2="257.12" y2="1265.20" stroke="#000" stroke-width="5.4" stroke-linecap="butt"/>
<line x1="250.32" y1="1260.40" x2="263.92" y2="1260.40" stroke="#000" stroke-width="5.4" stroke-linecap="round"/>
<line x1="250.32" y1="1265.20" x2="263.92" y2="1265.20" stroke="#000" stroke-width="5.4" stroke-linecap="round"/>
<line x1="376.36" y1="1239.90" x2="376.36" y2="1313.40" stroke="#000" stroke-width="5.4" stroke-linecap="butt"/>
<line x1="369.56" y1="1239.90" x2="383.16" y2="1239.90" stroke="#000" stroke-width="5.4" stroke-linecap="round"/>
<line x1="369.56" y1="1313.40" x2="383.16" y2="1313.40" stroke="#000" stroke-width="5.4" stroke-linecap="round"/>
<line x1="495.59" y1="1276.70" x2="495.59" y2="1330.30" stroke="#000" stroke-width="5.4" stroke-linecap="butt"/>
<line x1="488.79" y1="1276.70" x2="502.39" y2="1276.70" stroke="#000" stroke-width="5.4" stroke-linecap="round"/>
<line x1="488.79" y1="1330.30" x2="502.39" y2="1330.30" stroke="#000" stroke-width="5.4" stroke-linecap="round"/>
<line x1="614.83" y1="1264.60" x2="614.83" y2="1309.80" stroke="#000" stroke-width="5.4" stroke-linecap="butt"/>
<line x1="608.03" y1="1264.60" x2="621.63" y2="1264.60" stroke="#000" stroke-width="5.4" stroke-linecap="round"/>
<line x1="608.03" y1="1309.80" x2="621.63" y2="1309.80" stroke="#000" stroke-width="5.4" stroke-linecap="round"/>
<line x1="734.07" y1="1264.10" x2="734.07" y2="1302.10" stroke="#000" stroke-width="5.4" stroke-linecap="butt"/>
<line x1="727.27" y1="1264.10" x2="740.87" y2="1264.10" stroke="#000" stroke-width="5.4" stroke-linecap="round"/>
<line x1="727.27" y1="1302.10" x2="740.87" y2="1302.10" stroke="#000" stroke-width="5.4" stroke-linecap="round"/>
<line x1="853.31" y1="1275.50" x2="853.31" y2="1309.00" stroke="#000" stroke-width="5.4" stroke-linecap="butt"/>
<line x1="846.51" y1="1275.50" x2="860.11" y2="1275.50" stroke="#000" stroke-width="5.4" stroke-linecap="round"/>
<line x1="846.51" y1="1309.00" x2="860.11" y2="1309.00" stroke="#000" stroke-width="5.4" stroke-linecap="round"/>
<line x1="972.54" y1="1287.40" x2="972.54" y2="1291.40" stroke="#000" stroke-width="5.4" stroke-linecap="butt"/>
<line x1="965.74" y1="1287.40" x2="979.34" y2="1287.40" stroke="#000" stroke-width="5.4" stroke-linecap="round"/>
<line x1="965.74" y1="1291.40" x2="979.34" y2="1291.40" stroke="#000" stroke-width="5.4" stroke-linecap="round"/>
<line x1="1091.78" y1="1261.20" x2="1091.78" y2="1272.30" stroke="#000" stroke-width="5.4" stroke-linecap="butt"/>
<line x1="1084.98" y1="1261.20" x2="1098.58" y2="1261.20" stroke="#000" stroke-width="5.4" stroke-linecap="round"/>
<line x1="1084.98" y1="1272.30" x2="1098.58" y2="1272.30" stroke="#000" stroke-width="5.4" stroke-linecap="round"/>
<text transform="translate(202.90 1878.10) scale(1 1.04)" font-size="48" text-anchor="start" font-weight="normal" >CT</text>
<text transform="translate(319.50 1878.10) scale(1 1.04)" font-size="48">Fe<tspan dy="-18.27" font-size="33">3+</tspan></text>
<text transform="translate(438.80 1878.10) scale(1 1.04)" font-size="48">Zn<tspan dy="-18.27" font-size="33">2+</tspan></text>
<text transform="translate(558.70 1878.10) scale(1 1.04)" font-size="48">Mg<tspan dy="-18.27" font-size="33">3+</tspan></text>
<text transform="translate(703.10 1878.10) scale(1 1.04)" font-size="48">K<tspan dy="-18.27" font-size="33">+</tspan></text>
<text transform="translate(808.70 1878.10) scale(1 1.04)" font-size="48">Ca<tspan dy="-18.27" font-size="33">2+</tspan></text>
<text transform="translate(921.00 1878.10) scale(1 1.04)" font-size="48" text-anchor="start" font-weight="normal" >BSA</text>
<text transform="translate(1030.00 1878.10) scale(1 1.04)" font-size="48" text-anchor="start" font-weight="normal" >L-cys</text>
<rect x="1375.30" y="1105.40" width="966.50" height="709.90" fill="none" stroke="#000" stroke-width="5.0" stroke-linejoin="miter"/>
<line x1="1435.71" y1="1815.30" x2="1435.71" y2="1829.30" stroke="#000" stroke-width="4.6" stroke-linecap="butt"/>
<line x1="1556.52" y1="1815.30" x2="1556.52" y2="1829.30" stroke="#000" stroke-width="4.6" stroke-linecap="butt"/>
<line x1="1677.33" y1="1815.30" x2="1677.33" y2="1829.30" stroke="#000" stroke-width="4.6" stroke-linecap="butt"/>
<line x1="1798.14" y1="1815.30" x2="1798.14" y2="1829.30" stroke="#000" stroke-width="4.6" stroke-linecap="butt"/>
<line x1="1918.96" y1="1815.30" x2="1918.96" y2="1829.30" stroke="#000" stroke-width="4.6" stroke-linecap="butt"/>
<line x1="2039.77" y1="1815.30" x2="2039.77" y2="1829.30" stroke="#000" stroke-width="4.6" stroke-linecap="butt"/>
<line x1="2160.58" y1="1815.30" x2="2160.58" y2="1829.30" stroke="#000" stroke-width="4.6" stroke-linecap="butt"/>
<line x1="2281.39" y1="1815.30" x2="2281.39" y2="1829.30" stroke="#000" stroke-width="4.6" stroke-linecap="butt"/>
<line x1="1375.30" y1="1815.30" x2="1375.30" y2="1822.30" stroke="#000" stroke-width="4.6" stroke-linecap="butt"/>
<line x1="1496.11" y1="1815.30" x2="1496.11" y2="1822.30" stroke="#000" stroke-width="4.6" stroke-linecap="butt"/>
<line x1="1616.92" y1="1815.30" x2="1616.92" y2="1822.30" stroke="#000" stroke-width="4.6" stroke-linecap="butt"/>
<line x1="1737.74" y1="1815.30" x2="1737.74" y2="1822.30" stroke="#000" stroke-width="4.6" stroke-linecap="butt"/>
<line x1="1858.55" y1="1815.30" x2="1858.55" y2="1822.30" stroke="#000" stroke-width="4.6" stroke-linecap="butt"/>
<line x1="1979.36" y1="1815.30" x2="1979.36" y2="1822.30" stroke="#000" stroke-width="4.6" stroke-linecap="butt"/>
<line x1="2100.18" y1="1815.30" x2="2100.18" y2="1822.30" stroke="#000" stroke-width="4.6" stroke-linecap="butt"/>
<line x1="2220.99" y1="1815.30" x2="2220.99" y2="1822.30" stroke="#000" stroke-width="4.6" stroke-linecap="butt"/>
<line x1="2341.80" y1="1815.30" x2="2341.80" y2="1822.30" stroke="#000" stroke-width="4.6" stroke-linecap="butt"/>
<line x1="1375.30" y1="1815.30" x2="1361.30" y2="1815.30" stroke="#000" stroke-width="4.6" stroke-linecap="butt"/>
<line x1="1375.30" y1="1637.70" x2="1361.30" y2="1637.70" stroke="#000" stroke-width="4.6" stroke-linecap="butt"/>
<line x1="1375.30" y1="1460.10" x2="1361.30" y2="1460.10" stroke="#000" stroke-width="4.6" stroke-linecap="butt"/>
<line x1="1375.30" y1="1282.50" x2="1361.30" y2="1282.50" stroke="#000" stroke-width="4.6" stroke-linecap="butt"/>
<line x1="1375.30" y1="1104.90" x2="1361.30" y2="1104.90" stroke="#000" stroke-width="4.6" stroke-linecap="butt"/>
<line x1="1375.30" y1="1726.50" x2="1368.30" y2="1726.50" stroke="#000" stroke-width="4.6" stroke-linecap="butt"/>
<line x1="1375.30" y1="1548.90" x2="1368.30" y2="1548.90" stroke="#000" stroke-width="4.6" stroke-linecap="butt"/>
<line x1="1375.30" y1="1371.30" x2="1368.30" y2="1371.30" stroke="#000" stroke-width="4.6" stroke-linecap="butt"/>
<line x1="1375.30" y1="1193.70" x2="1368.30" y2="1193.70" stroke="#000" stroke-width="4.6" stroke-linecap="butt"/>
<text transform="translate(1350.70 1833.80) scale(1 1.04)" font-size="63" text-anchor="end" font-weight="normal" >0.0</text>
<text transform="translate(1350.70 1656.20) scale(1 1.04)" font-size="63" text-anchor="end" font-weight="normal" >0.1</text>
<text transform="translate(1350.70 1478.60) scale(1 1.04)" font-size="63" text-anchor="end" font-weight="normal" >0.2</text>
<text transform="translate(1350.70 1301.00) scale(1 1.04)" font-size="63" text-anchor="end" font-weight="normal" >0.3</text>
<text transform="translate(1350.70 1123.40) scale(1 1.04)" font-size="63" text-anchor="end" font-weight="normal" >0.4</text>
<text transform="translate(1245.40 1431.45) rotate(-90) scale(1 1.04)" font-size="63.1" text-anchor="middle">Δ Absorbance (a.u.)</text>
<rect x="1388.61" y="1243.80" width="94.20" height="570.20" fill="url(#hatch)" stroke="#EE0000" stroke-width="5" stroke-linejoin="round"/>
<rect x="1509.42" y="1798.80" width="94.20" height="15.20" fill="url(#hatch)" stroke="#EE0000" stroke-width="5" stroke-linejoin="round"/>
<rect x="1630.23" y="1783.50" width="94.20" height="30.50" fill="url(#hatch)" stroke="#EE0000" stroke-width="5" stroke-linejoin="round"/>
<rect x="1751.04" y="1807.50" width="94.20" height="6.50" fill="url(#hatch)" stroke="#EE0000" stroke-width="5" stroke-linejoin="round"/>
<rect x="1871.86" y="1770.80" width="94.20" height="43.20" fill="url(#hatch)" stroke="#EE0000" stroke-width="5" stroke-linejoin="round"/>
<rect x="1992.67" y="1780.40" width="94.20" height="33.60" fill="url(#hatch)" stroke="#EE0000" stroke-width="5" stroke-linejoin="round"/>
<rect x="2113.48" y="1702.20" width="94.20" height="111.80" fill="url(#hatch)" stroke="#EE0000" stroke-width="5" stroke-linejoin="round"/>
<rect x="2234.29" y="1708.50" width="94.20" height="105.50" fill="url(#hatch)" stroke="#EE0000" stroke-width="5" stroke-linejoin="round"/>
<line x1="1428.71" y1="1242.50" x2="1442.71" y2="1242.50" stroke="#000" stroke-width="5.5" stroke-linecap="round"/>
<line x1="1556.52" y1="1763.50" x2="1556.52" y2="1798.80" stroke="#000" stroke-width="5.5" stroke-linecap="round"/>
<line x1="1549.52" y1="1763.50" x2="1563.52" y2="1763.50" stroke="#000" stroke-width="5.5" stroke-linecap="round"/>
<line x1="1677.33" y1="1761.60" x2="1677.33" y2="1783.50" stroke="#000" stroke-width="5.5" stroke-linecap="round"/>
<line x1="1670.33" y1="1761.60" x2="1684.33" y2="1761.60" stroke="#000" stroke-width="5.5" stroke-linecap="round"/>
<line x1="1798.14" y1="1774.80" x2="1798.14" y2="1807.50" stroke="#000" stroke-width="5.5" stroke-linecap="round"/>
<line x1="1791.14" y1="1774.80" x2="1805.14" y2="1774.80" stroke="#000" stroke-width="5.5" stroke-linecap="round"/>
<line x1="1918.96" y1="1718.50" x2="1918.96" y2="1770.80" stroke="#000" stroke-width="5.5" stroke-linecap="round"/>
<line x1="1911.96" y1="1718.50" x2="1925.96" y2="1718.50" stroke="#000" stroke-width="5.5" stroke-linecap="round"/>
<line x1="2039.77" y1="1729.40" x2="2039.77" y2="1780.40" stroke="#000" stroke-width="5.5" stroke-linecap="round"/>
<line x1="2032.77" y1="1729.40" x2="2046.77" y2="1729.40" stroke="#000" stroke-width="5.5" stroke-linecap="round"/>
<line x1="2160.58" y1="1691.80" x2="2160.58" y2="1702.20" stroke="#000" stroke-width="5.5" stroke-linecap="round"/>
<line x1="2153.58" y1="1691.80" x2="2167.58" y2="1691.80" stroke="#000" stroke-width="5.5" stroke-linecap="round"/>
<line x1="2281.39" y1="1690.50" x2="2281.39" y2="1708.50" stroke="#000" stroke-width="5.5" stroke-linecap="round"/>
<line x1="2274.39" y1="1690.50" x2="2288.39" y2="1690.50" stroke="#000" stroke-width="5.5" stroke-linecap="round"/>
<text transform="translate(1392.80 1875.30) scale(1 1.04)" font-size="45.5" text-anchor="start" font-weight="normal" >ALP</text>
<text transform="translate(1507.30 1875.30) scale(1 1.04)" font-size="45.5" text-anchor="start" font-weight="normal" >AMY</text>
<text transform="translate(1642.11 1875.30) scale(1 1.04)" font-size="45.5" text-anchor="start" font-weight="normal" >LIP</text>
<text transform="translate(1735.70 1875.30) scale(1 1.04)" font-size="45.5" text-anchor="start" font-weight="normal" >CHOx</text>
<text transform="translate(1873.50 1875.30) scale(1 1.04)" font-size="45.5" text-anchor="start" font-weight="normal" >CAT</text>
<text transform="translate(1989.60 1875.30) scale(1 1.04)" font-size="45.5" text-anchor="start" font-weight="normal" >GOX</text>
<text transform="translate(2115.05 1875.30) scale(1 1.04)" font-size="45.5" text-anchor="start" font-weight="normal" >TRY</text>
<text transform="translate(2218.30 1875.30) scale(1 1.04)" font-size="45.5" text-anchor="start" font-weight="normal" >CHOL</text>
<text x="84.70" y="87.40" font-size="88" text-anchor="start" font-weight="bold" >(a)</text>
<text x="1261.00" y="86.90" font-size="88" text-anchor="start" font-weight="bold" >(b)</text>
<text x="85.40" y="1052.90" font-size="88" text-anchor="start" font-weight="bold" >(c)</text>
<text x="1260.80" y="1053.00" font-size="88" text-anchor="start" font-weight="bold" >(d)</text>
</svg></body></html>
